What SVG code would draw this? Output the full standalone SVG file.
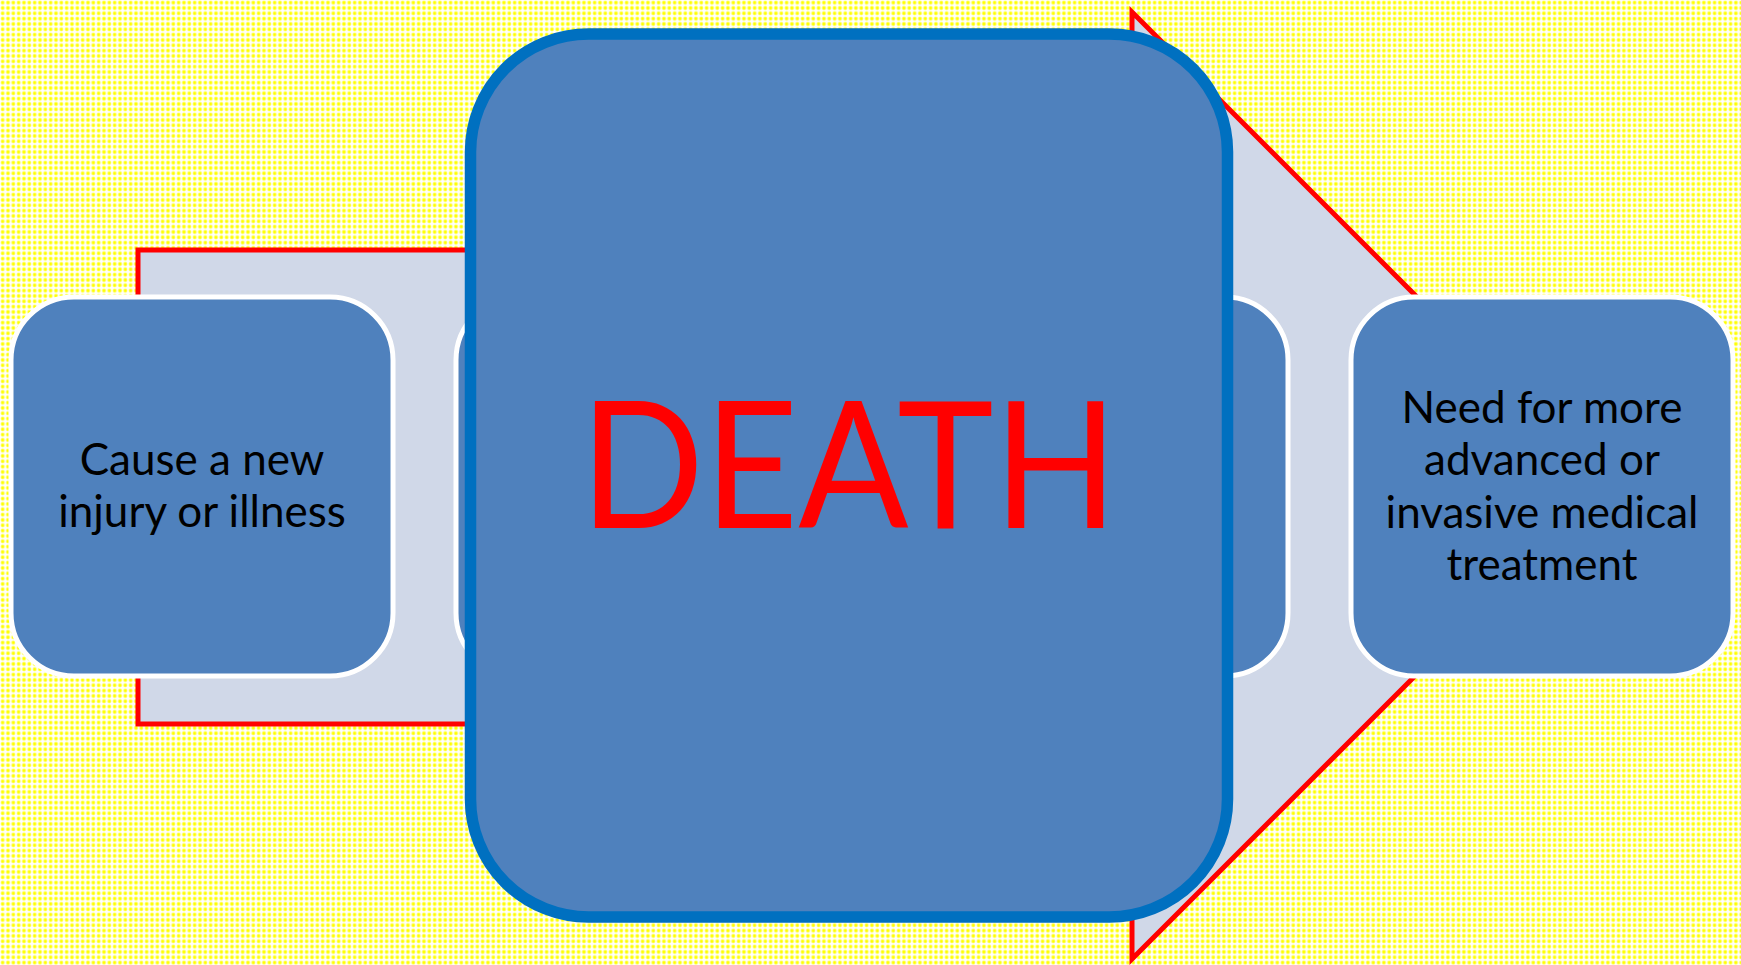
<svg xmlns="http://www.w3.org/2000/svg" width="1741" height="965" viewBox="0 0 1741 965">
  <defs>
    <pattern id="dots" patternUnits="userSpaceOnUse" width="5.333" height="5.333">
      <rect width="5.333" height="5.333" fill="#FFFFFF"/>
      <circle cx="2.67" cy="2.67" r="2.2" fill="#FFFF88"/>
      <circle cx="2.67" cy="2.67" r="1.45" fill="#FFFF00"/>
    </pattern>
    <style>
      .node { fill: #4F81BD; stroke: #FFFFFF; stroke-width: 5; }
      .label { font-family: Lato, "Open Sans", "Liberation Sans", sans-serif; font-size: 44px; fill: #000000; text-anchor: middle; }
      .arrow { fill: #D0D8E8; stroke: #FF0000; stroke-width: 5; stroke-linejoin: miter; }
      .death { fill: #4F81BD; stroke: #0070C0; stroke-width: 11.5; }
      .death-label { font-family: Lato, "Open Sans", "Liberation Sans", sans-serif; font-size: 176px; fill: #FF0000; text-anchor: middle; }
    </style>
  </defs>

  <rect id="background" x="0" y="0" width="1741" height="965" fill="url(#dots)"/>

  <g id="connectors">
    <polygon id="process-arrow" class="arrow" points="138,250 1132,250 1132,12 1605.5,485.5 1132,959 1132,724 138,724"/>
  </g>

  <g id="node-1">
    <rect class="node" x="11" y="297" width="382" height="379" rx="63" ry="63"/>
    <text class="label" x="202" y="475">Cause a new</text>
    <text class="label" x="202" y="527">injury or illness</text>
  </g>

  <g id="node-2">
    <rect class="node" x="456" y="297" width="382" height="379" rx="63" ry="63"/>
  </g>

  <g id="node-3">
    <rect class="node" x="906" y="297" width="382" height="379" rx="63" ry="63"/>
  </g>

  <g id="node-4">
    <rect class="node" x="1351" y="297" width="382" height="379" rx="63" ry="63"/>
    <text class="label" x="1542" y="422.5">Need for more</text>
    <text class="label" x="1542" y="475">advanced or</text>
    <text class="label" x="1542" y="527.5">invasive medical</text>
    <text class="label" x="1542" y="580">treatment</text>
  </g>

  <g id="death">
    <rect class="death" x="470.5" y="34" width="757" height="883" rx="118" ry="118"/>
    <text class="death-label" x="849" y="528" textLength="538" lengthAdjust="spacingAndGlyphs">DEATH</text>
  </g>
</svg>
